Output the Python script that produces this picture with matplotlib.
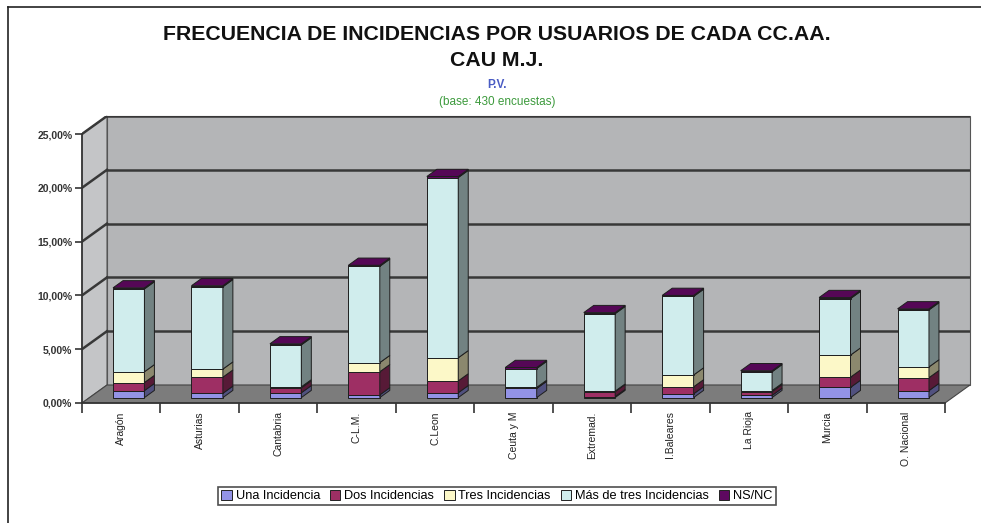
import matplotlib
matplotlib.use("Agg")
import matplotlib.pyplot as plt
from matplotlib.patches import Polygon, Patch
from matplotlib.lines import Line2D
import numpy as np

# Datos (porcentajes)
comunidades = ["Aragón", "Asturias", "Cantabria", "C-L.M.", "C.Leon", "Ceuta y M",
               "Extremad.", "I.Baleares", "La Rioja", "Murcia", "O. Nacional"]
una_incidencia = [0.65, 0.40, 0.45, 0.25, 0.45, 0.85, 0.10, 0.35, 0.20, 0.95, 0.65]
dos_incidencias = [0.75, 1.50, 0.45, 2.15, 1.10, 0.05, 0.45, 0.65, 0.35, 0.95, 1.20]
tres_incidencias = [1.00, 0.75, 0.10, 0.85, 2.15, 0.05, 0.05, 1.10, 0.10, 2.05, 1.00]
mas_de_tres = [7.70, 7.65, 3.90, 8.95, 16.75, 1.75, 7.20, 7.30, 1.75, 5.25, 5.30]
ns_nc = [0.10, 0.10, 0.10, 0.10, 0.10, 0.10, 0.10, 0.10, 0.10, 0.10, 0.10]

series = [una_incidencia, dos_incidencias, tres_incidencias, mas_de_tres, ns_nc]
nombres = ["Una Incidencia", "Dos Incidencias", "Tres Incidencias",
           "Más de tres Incidencias", "NS/NC"]
colores = ["#9393E6", "#9E2F64", "#FCF8C8", "#D0EDED", "#5E0860"]

valores_y = [0, 5, 10, 15, 20, 25]

plt.rcParams['font.family'] = ['Liberation Sans', 'DejaVu Sans']

W, H = 981, 523
fig = plt.figure(figsize=(W / 100, H / 100), dpi=100)
fig.patch.set_facecolor("white")

n = len(comunidades)
# profundidad de la perspectiva (unidades de datos)
DX = 25 / 78.46
DY = 18 / 10.76
ymax = valores_y[-1]

ax = fig.add_axes([82 / W, 120 / H, (970 - 82) / W, 287 / H])
ax.set_xlim(0, n + DX)
ax.set_ylim(0, ymax + DY)
ax.patch.set_alpha(0)


def sombra(c, f):
    r, g, b = matplotlib.colors.to_rgb(c)
    return (r * f, g * f, b * f)


# Paredes y suelo
pared_fondo = Polygon([(DX, DY), (n + DX, DY), (n + DX, ymax + DY), (DX, ymax + DY)],
                      facecolor="#b4b5b7", edgecolor="#555555", lw=0.8, zorder=1)
pared_lat = Polygon([(0, 0), (DX, DY), (DX, ymax + DY), (0, ymax)],
                    facecolor="#c4c5c7", edgecolor="#555555", lw=0.8, zorder=1)
suelo = Polygon([(0, 0), (n, 0), (n + DX, DY), (DX, DY)],
                facecolor="#7c7c7c", edgecolor="#444444", lw=0.8, zorder=2)
for p in (pared_fondo, pared_lat, suelo):
    p.set_clip_on(False)
    ax.add_patch(p)

for v in valores_y[1:]:
    ax.add_line(Line2D([DX, n + DX], [v + DY, v + DY], color="#383838", lw=1.8, zorder=2))
    ax.add_line(Line2D([0, DX], [v, v + DY], color="#383838", lw=1.8, zorder=2))

# Barras 3D apiladas
ancho = 0.40
f0, f1 = 0.30, 0.70
ddx = (f1 - f0) * DX
ddy = (f1 - f0) * DY
borde = "#1e1e1e"

for i in range(n):
    base = 0.0
    xl = i + 0.5 - ancho / 2 + f0 * DX
    xr = xl + ancho
    for s, serie in enumerate(series):
        h = serie[i]
        if h <= 0:
            continue
        yb = base + f0 * DY
        yt = base + h + f0 * DY
        frente = Polygon([(xl, yb), (xr, yb), (xr, yt), (xl, yt)],
                         facecolor=colores[s], edgecolor=borde, lw=0.7, zorder=5)
        lado = Polygon([(xr, yb), (xr + ddx, yb + ddy), (xr + ddx, yt + ddy), (xr, yt)],
                       facecolor=sombra(colores[s], 0.55), edgecolor=borde, lw=0.7, zorder=5)
        ax.add_patch(frente)
        ax.add_patch(lado)
        base += h
    yt = base + f0 * DY
    tapa = Polygon([(xl, yt), (xr, yt), (xr + ddx, yt + ddy), (xl + ddx, yt + ddy)],
                   facecolor=sombra(colores[-1], 0.9), edgecolor=borde, lw=0.7, zorder=6)
    ax.add_patch(tapa)

# Ejes
for lado_s in ("top", "right"):
    ax.spines[lado_s].set_visible(False)
ax.spines["left"].set_bounds(0, ymax)
ax.spines["bottom"].set_bounds(0, n)
for lado_s in ("left", "bottom"):
    ax.spines[lado_s].set_color("#333333")
    ax.spines[lado_s].set_linewidth(1.2)
    ax.spines[lado_s].set_zorder(3)

ax.set_yticks(valores_y)
ax.set_yticklabels([f"{v:.2f}".replace(".", ",") + "%" for v in valores_y],
                   fontsize=7.5, color="#333333", fontweight="bold")
ax.tick_params(axis="y", direction="out", length=5, width=1.2, color="#333333", pad=2)

ax.set_xticks(np.arange(n + 1))
ax.set_xticklabels([])
ax.tick_params(axis="x", which="major", direction="out", length=7, width=1.2, color="#333333")
ax.set_xticks(np.arange(n) + 0.5, minor=True)
ax.set_xticklabels(comunidades, minor=True, rotation=90, fontsize=7.5,
                   color="#222222", va="top", ha="center")
ax.tick_params(axis="x", which="minor", length=0, pad=6)

# Títulos
fig.text(497 / W, 1 - 35 / H, "FRECUENCIA DE INCIDENCIAS POR USUARIOS DE CADA CC.AA.",
         ha="center", va="center", fontsize=15.3, fontweight="bold", color="#111111")
fig.text(497 / W, 1 - 60 / H, "CAU M.J.", ha="center", va="center", fontsize=15.3,
         fontweight="bold", color="#111111")
fig.text(497 / W, 1 - 85 / H, "P.V.", ha="center", va="center", fontsize=8.5,
         fontweight="bold", color="#4a5cc4")
fig.text(497 / W, 1 - 102 / H, "(base: 430 encuestas)", ha="center", va="center",
         fontsize=8.5, color="#3c9a3c")

# Leyenda
handles = [Patch(facecolor=c, edgecolor="#222222", lw=0.7) for c in colores]
leg = fig.legend(handles, nombres, loc="center", bbox_to_anchor=(497 / W, 1 - 496 / H),
                 ncol=5, fontsize=9.2, frameon=True, fancybox=False, handlelength=0.8,
                 handleheight=0.8, handletextpad=0.3, columnspacing=0.8, borderpad=0.25)
leg.get_frame().set_edgecolor("#222222")
leg.get_frame().set_linewidth(1.2)

# Marco exterior
fig.add_artist(Line2D([8 / W, 8 / W], [0, 1 - 7 / H], color="#222222", lw=1.2))
fig.add_artist(Line2D([8 / W, 1], [1 - 7 / H, 1 - 7 / H], color="#222222", lw=1.2))

fig.savefig("out.png", dpi=100)
